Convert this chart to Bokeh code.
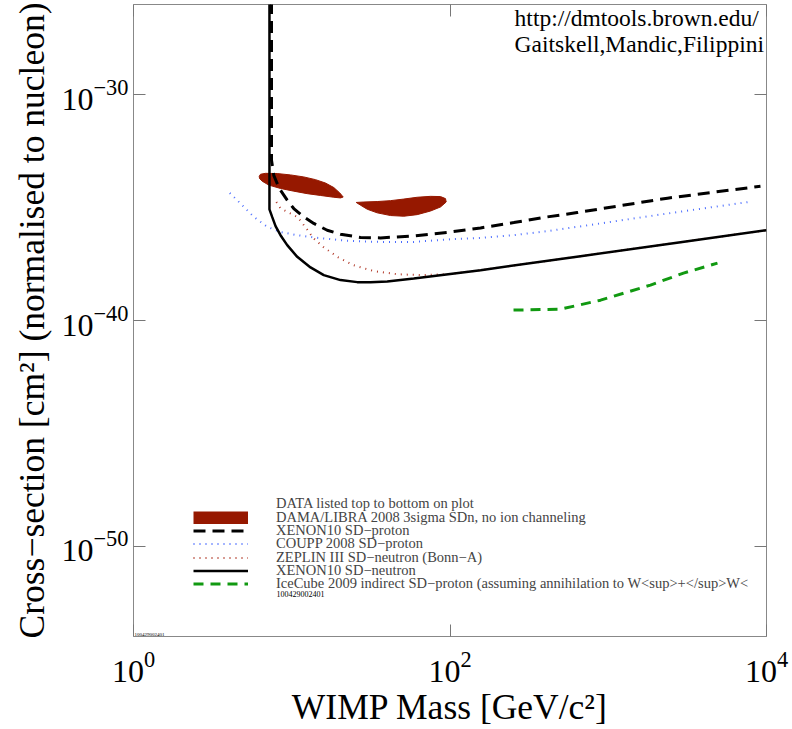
import numpy as np
from bokeh.plotting import figure
from bokeh.models import LogAxis, FixedTicker, Label, Legend, LegendItem
from bokeh.embed import file_html
from bokeh.resources import INLINE

# ---------------- data ----------------
# tick exponents
x_tick_exps = [0, 2, 4]
y_tick_exps = [-50, -40, -30]

# DAMA/LIBRA 2008 3sigma SDn regions (mass GeV/c^2, log10 cross-section cm^2)
dama1_mass = [6.23, 6.35, 6.83, 8.09, 9.82, 11.92, 14.13, 16.34, 18.44, 20.12, 21.14,
              20.33, 18.44, 15.19, 12.52, 10.30, 8.49, 7.16, 6.51, 6.26]
dama1_logsig = [-33.61, -33.52, -33.48, -33.49, -33.55, -33.64, -33.76, -33.91, -34.11, -34.35, -34.53,
                -34.57, -34.54, -34.46, -34.38, -34.27, -34.15, -34.00, -33.83, -33.71]
dama2_mass = [25.55, 27.20, 29.99, 34.67, 42.07, 51.05, 62.04, 75.31, 87.10, 94.62,
              93.66, 87.10, 75.31, 62.04, 51.05, 42.07, 34.67, 28.53]
dama2_logsig = [-34.77, -34.89, -35.07, -35.23, -35.35, -35.38, -35.31, -35.15, -34.97, -34.75,
                -34.60, -34.51, -34.50, -34.54, -34.62, -34.69, -34.73, -34.75]

# XENON10 SD-proton
xenon10_sdp_mass = [7.45, 7.45, 7.70, 8.09, 8.49, 9.36, 10.30, 11.92, 13.78, 16.75, 20.33, 27.20,
                    36.38, 59.05, 96.0, 155.9, 253.1, 411.5, 636.7, 2368, 9160]
xenon10_sdp_logsig = [-20.0, -32.9, -33.57, -33.93, -34.23, -34.67, -35.04, -35.41, -35.70, -36.0,
                      -36.18, -36.32, -36.34, -36.25, -36.10, -35.90, -35.66, -35.41, -35.22,
                      -34.58, -34.05]

# COUPP 2008 SD-proton
coupp_mass = [4.06, 4.75, 5.76, 7.00, 8.49, 10.83, 13.78, 22.41, 36.38, 59.05, 96.0, 155.9,
              253.1, 411.5, 636.7, 2368, 7690]
coupp_logsig = [-34.35, -34.82, -35.41, -35.85, -36.08, -36.22, -36.32, -36.47, -36.52, -36.52,
                -36.41, -36.34, -36.22, -36.04, -35.85, -35.26, -34.75]

# ZEPLIN III SD-neutron (Bonn-A)
zeplin_mass = [8.0, 8.49, 10.9, 12.6, 13.7, 15.9, 19.5, 24.6, 32.9, 46.6, 65.1, 96.4, 156, 668, 2862, 10000]
zeplin_logsig = [-34.75, -35.03, -35.42, -36.0, -36.35, -36.75, -37.19, -37.55, -37.81, -37.95,
                 -37.99, -37.95, -37.77, -37.15, -36.53, -36.0]

# XENON10 SD-neutron
xenon10_sdn_mass = [7.23, 7.23, 7.52, 7.90, 8.49, 9.36, 10.83, 13.14, 15.94, 20.33, 25.92, 31.45,
                    40.11, 59.05, 156, 668, 2862, 10000]
xenon10_sdn_logsig = [-20.0, -35.08, -35.41, -35.82, -36.22, -36.66, -37.18, -37.65, -37.99, -38.21,
                      -38.30, -38.31, -38.27, -38.14, -37.77, -37.15, -36.53, -36.0]

# IceCube 2009 indirect SD-proton
icecube_mass = [252, 499, 894, 1849, 2988, 4900]
icecube_logsig = [-39.54, -39.50, -39.10, -38.43, -37.90, -37.46]

legend_header = "DATA listed top to bottom on plot"
legend_labels = [
    "DAMA/LIBRA 2008 3sigma SDn, no ion channeling",
    "XENON10 SD\u2212proton",
    "COUPP 2008 SD\u2212proton",
    "ZEPLIN III SD\u2212neutron (Bonn\u2212A)",
    "XENON10 SD\u2212neutron",
    "IceCube 2009 indirect SD\u2212proton (assuming annihilation to W<sup>+</sup>W<",
]
plot_id = "100429002401"
credit_lines = ["http://dmtools.brown.edu/", "Gaitskell,Mandic,Filippini"]

# ---------------- figure ----------------
SERIF = "Liberation Serif"
XR = (1, 1e4)
YR = (1e-54, 1e-26)

p = figure(width=792, height=729, x_axis_type="log", y_axis_type="log",
           x_range=XR, y_range=YR, output_backend="svg", toolbar_location=None,
           min_border_left=133, min_border_right=26, min_border_top=4,
           min_border_bottom=93)
p.background_fill_color = "white"
p.border_fill_color = "white"
p.outline_line_color = "#888888"
p.outline_line_width = 1
p.xgrid.visible = False
p.ygrid.visible = False

def L(v):
    return [10.0 ** e for e in v]

xt = [10.0 ** e for e in x_tick_exps]
yt = [10.0 ** e for e in y_tick_exps]

xaxis = p.xaxis[0]
yaxis = p.yaxis[0]

def style_axis(ax, ticks, labels=True):
    ax.ticker = FixedTicker(ticks=ticks, minor_ticks=[])
    ax.major_tick_in = 12
    ax.major_tick_out = 0
    ax.major_tick_line_color = "#777777"
    ax.major_tick_line_width = 1
    ax.minor_tick_line_color = None
    ax.axis_line_color = None
    if labels:
        ax.major_label_text_font = SERIF
        ax.major_label_text_font_size = "32px"
        ax.major_label_text_color = "black"
    else:
        ax.major_label_overrides = {t: "" for t in ticks}
        ax.major_label_text_font_size = "0px"
        ax.major_label_standoff = 0

style_axis(xaxis, xt)
style_axis(yaxis, yt)
xaxis.major_label_standoff = 15
yaxis.major_label_standoff = 5
right = LogAxis()
style_axis(right, yt, labels=False)
p.add_layout(right, "right")
top = LogAxis()
style_axis(top, xt, labels=False)
p.add_layout(top, "above")

xaxis.axis_label = "WIMP Mass [GeV/c\u00b2]"
yaxis.axis_label = "Cross\u2212section [cm\u00b2] (normalised to nucleon)"
for ax in (xaxis, yaxis):
    ax.axis_label_text_font = SERIF
    ax.axis_label_text_font_style = "normal"
    ax.axis_label_text_font_size = "35.5px"
    ax.axis_label_text_color = "black"
xaxis.axis_label_standoff = 2
yaxis.axis_label_standoff = 6

# ---------------- glyphs ----------------
DAMA_RED = "#961800"
r_dama = p.patches(xs=[dama1_mass, dama2_mass], ys=[L(dama1_logsig), L(dama2_logsig)],
                   fill_color=DAMA_RED, line_color=DAMA_RED, line_width=1)
r_coupp = p.line(coupp_mass, L(coupp_logsig), line_color="#4a6cff", line_width=2,
                 line_dash="1 5")
r_zeplin = p.line(zeplin_mass, L(zeplin_logsig), line_color="#b23a2a", line_width=2,
                  line_dash="1 5")
r_sdp = p.line(xenon10_sdp_mass, L(xenon10_sdp_logsig), line_color="black", line_width=3,
               line_dash="12 7")
r_sdn = p.line(xenon10_sdn_mass, L(xenon10_sdn_logsig), line_color="black", line_width=2.5)
r_ice = p.line(icecube_mass, L(icecube_logsig), line_color="#119911", line_width=3,
               line_dash="10 7")
# legend-only keys (a single undefined point, nothing drawn in the plot)
r_head = p.line([float("nan")], [float("nan")], line_alpha=0)
r_dama_key = p.line([float("nan")], [float("nan")], line_color=DAMA_RED, line_width=13,
                    line_cap="butt")

# legend: one row per entry, rows 13.3 px apart
legend_entries = [
    (legend_header, [r_head]),
    (legend_labels[0], [r_dama_key]),
    (legend_labels[1], [r_sdp]),
    (legend_labels[2], [r_coupp]),
    (legend_labels[3], [r_zeplin]),
    (legend_labels[4], [r_sdn]),
    (legend_labels[5], [r_ice]),
]
ROW_PITCH = 13.33
FIRST_ROW_FROM_BOTTOM = 132   # px above the frame bottom of the first row centre
ROW_H = 16.7
for i, (lbl, rs) in enumerate(legend_entries):
    yc = FIRST_ROW_FROM_BOTTOM - ROW_PITCH * i
    lg = Legend(items=[LegendItem(label=lbl, renderers=rs)],
                location=(60, int(round(yc - ROW_H / 2))),
                label_text_font=SERIF, label_text_font_size="14.5px",
                glyph_width=55, glyph_height=13, label_height=13, label_standoff=28,
                spacing=0, padding=0, margin=0, border_line_color=None,
                background_fill_alpha=0)
    p.add_layout(lg)

# ---------------- text ----------------
def lab(**kw):
    base = dict(text_font=SERIF, text_color="black")
    base.update(kw)
    p.add_layout(Label(**base))

lab(x=256, y=10 ** -26.62, text=credit_lines[0], text_align="left", text_baseline="middle",
    text_font_size="23.5px")
lab(x=256, y=10 ** -27.77, text=credit_lines[1], text_align="left", text_baseline="middle",
    text_font_size="23.5px")
lab(x=8.0, y=10 ** -52.11, text=plot_id, text_align="left", text_baseline="middle",
    text_font_size="8px")
lab(x=XR[0], y=YR[0], text=plot_id, x_offset=1, y_offset=1, text_align="left",
    text_baseline="bottom", text_font_size="5px")

open("out.html", "w").write(file_html(p, INLINE))
